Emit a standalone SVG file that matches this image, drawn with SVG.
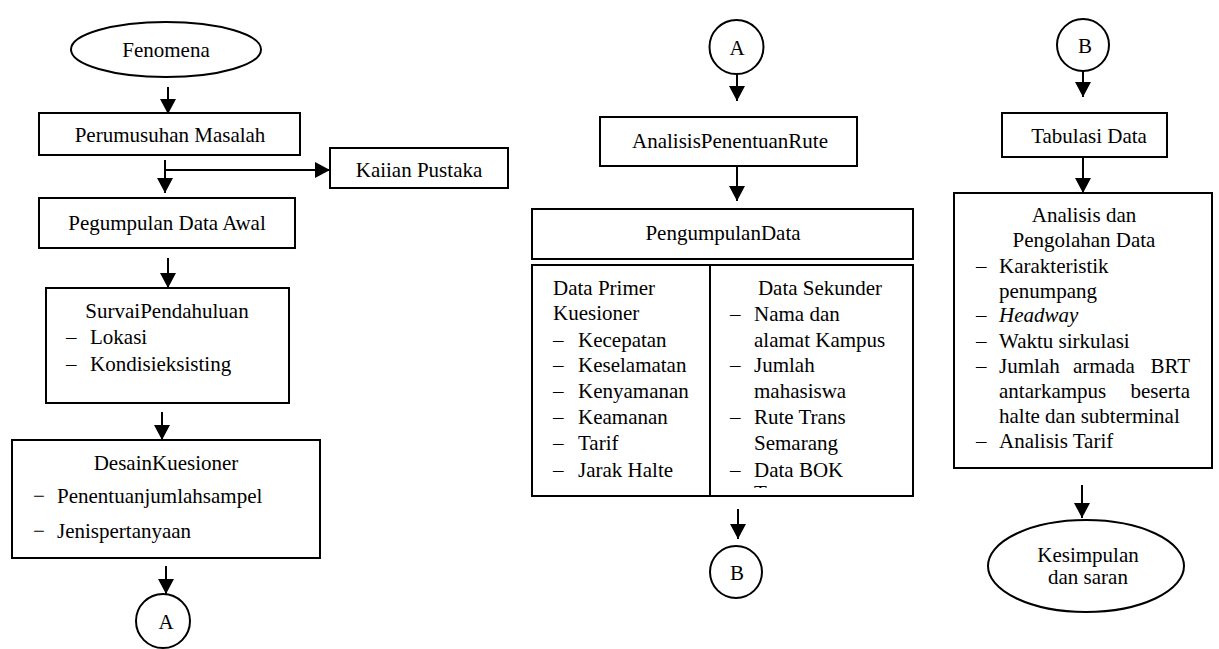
<svg xmlns="http://www.w3.org/2000/svg" width="1219" height="649" viewBox="0 0 1219 649">
<style>
text{font-family:"Liberation Serif","Times New Roman",serif;font-size:21px;fill:#000}
.c{text-anchor:middle}
.e{text-anchor:end}
.b{fill:#fff;stroke:#000;stroke-width:2}
.l{stroke:#000;stroke-width:2;fill:none;marker-end:url(#ah)}
</style>
<defs>
<marker id="ah" markerUnits="userSpaceOnUse" markerWidth="16" markerHeight="16" refX="15" refY="8" orient="auto"><path d="M0,0 L15,8 L0,16 Z" fill="#000"/></marker>
<clipPath id="clipSek"><rect x="712" y="266" width="200" height="222"/></clipPath>
</defs>
<rect width="1219" height="649" fill="#fff"/>

<g id="fenomena"><ellipse class="b" cx="166" cy="49.5" rx="95" ry="27.5"/><text class="c" x="166" y="57">Fenomena</text></g>
<g id="perumusuhan"><rect class="b" x="39" y="113" width="261" height="42"/><text class="c" x="170" y="142">Perumusuhan Masalah</text></g>
<g id="kajian"><rect class="b" x="330" y="148" width="178" height="40"/><text class="c" x="419" y="177">Kaiian Pustaka</text></g>
<g id="pegumpulan"><rect class="b" x="39" y="198" width="256" height="50"/><text class="c" x="167" y="230">Pegumpulan Data Awal</text></g>
<g id="survai"><rect class="b" x="46" y="288" width="243" height="115"/>
<text class="c" x="167" y="318">SurvaiPendahuluan</text>
<text x="66" y="344">–</text><text x="90" y="344">Lokasi</text>
<text x="66" y="371">–</text><text x="90" y="371">Kondisieksisting</text></g>
<g id="desain"><rect class="b" x="12" y="440" width="308" height="118"/>
<text class="c" x="166" y="470">DesainKuesioner</text>
<text x="33" y="503">−</text><text x="57" y="503">Penentuanjumlahsampel</text>
<text x="33" y="538">−</text><text x="57" y="538">Jenispertanyaan</text></g>
<g id="connA1"><circle class="b" cx="163" cy="621" r="27"/><text class="c" x="166" y="629">A</text></g>

<g id="connA2"><circle class="b" cx="736.5" cy="47" r="27"/><text class="c" x="737" y="55">A</text></g>
<g id="analisisRute"><rect class="b" x="600" y="117" width="257" height="49"/><text class="c" x="730" y="148">AnalisisPenentuanRute</text></g>
<g id="pengumpulanData"><rect class="b" x="532" y="209" width="381" height="50"/><text class="c" x="723" y="240">PengumpulanData</text></g>
<g id="dataBox"><rect class="b" x="532" y="265" width="381" height="231"/><line x1="710" y1="264" x2="710" y2="496" stroke="#000" stroke-width="2"/>
<text x="553" y="295">Data Primer</text>
<text x="553" y="320">Kuesioner</text>
<text x="553" y="347">–</text><text x="578" y="347">Kecepatan</text>
<text x="553" y="372">–</text><text x="578" y="372">Keselamatan</text>
<text x="553" y="398">–</text><text x="578" y="398">Kenyamanan</text>
<text x="553" y="424">–</text><text x="578" y="424">Keamanan</text>
<text x="553" y="450">–</text><text x="578" y="450">Tarif</text>
<text x="553" y="477">–</text><text x="578" y="477">Jarak Halte</text>
<g clip-path="url(#clipSek)">
<text class="c" x="820" y="295">Data Sekunder</text>
<text x="730" y="321">–</text><text x="754" y="321">Nama dan</text>
<text x="754" y="347">alamat Kampus</text>
<text x="730" y="372">–</text><text x="754" y="372">Jumlah</text>
<text x="754" y="398">mahasiswa</text>
<text x="730" y="424">–</text><text x="754" y="424">Rute Trans</text>
<text x="754" y="450">Semarang</text>
<text x="730" y="477">–</text><text x="754" y="477">Data BOK</text>
<text x="754" y="500">Trans</text>
</g></g>
<g id="connB1"><circle class="b" cx="736" cy="572" r="26"/><text class="c" x="737" y="580">B</text></g>

<g id="connB2"><circle class="b" cx="1083" cy="45" r="26"/><text class="c" x="1085" y="53">B</text></g>
<g id="tabulasi"><rect class="b" x="1002" y="113" width="165" height="44"/><text class="c" x="1089" y="143">Tabulasi Data</text></g>
<g id="analisisOlah"><rect class="b" x="954" y="193" width="258" height="275"/>
<text class="c" x="1084" y="222">Analisis dan</text>
<text class="c" x="1084" y="247">Pengolahan Data</text>
<text x="976" y="273">–</text><text x="999" y="273">Karakteristik</text>
<text x="999" y="298">penumpang</text>
<text x="976" y="322">–</text><text x="999" y="322" font-style="italic">Headway</text>
<text x="976" y="348">–</text><text x="999" y="348">Waktu sirkulasi</text>
<text x="976" y="373">–</text><text x="999" y="373">Jumlah</text><text x="1073" y="373">armada</text><text class="e" x="1190" y="373">BRT</text>
<text x="999" y="398">antarkampus</text><text class="e" x="1190" y="398">beserta</text>
<text x="999" y="423">halte dan subterminal</text>
<text x="976" y="448">–</text><text x="999" y="448">Analisis Tarif</text></g>
<g id="kesimpulan"><ellipse class="b" cx="1086" cy="566" rx="98" ry="46"/>
<text class="c" x="1088" y="562">Kesimpulan</text>
<text class="c" x="1088" y="584">dan saran</text></g>

<g id="connectors">
<line class="l" x1="168" y1="87" x2="168" y2="114"/>
<line class="l" x1="165" y1="160" x2="165" y2="193"/>
<line class="l" x1="165" y1="170" x2="330" y2="170" stroke-width="3"/>
<line class="l" x1="168" y1="258" x2="168" y2="288"/>
<line class="l" x1="162" y1="412" x2="162" y2="440"/>
<line class="l" x1="166" y1="566" x2="166" y2="594"/>
<line class="l" x1="737" y1="74" x2="737" y2="101"/>
<line class="l" x1="737" y1="166" x2="737" y2="201"/>
<line class="l" x1="738" y1="509" x2="738" y2="539"/>
<line class="l" x1="1083" y1="71" x2="1083" y2="97"/>
<line class="l" x1="1083" y1="158" x2="1083" y2="193"/>
<line class="l" x1="1082" y1="485" x2="1082" y2="518"/>
</g>
</svg>
